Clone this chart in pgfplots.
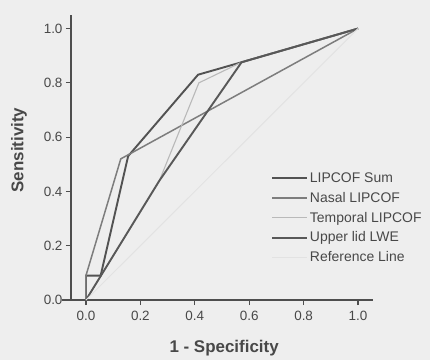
\documentclass[border=0pt]{standalone}
\usepackage{fontspec}
\setmainfont{Liberation Sans}
\usepackage{pgfplots}
\pgfplotsset{compat=1.18}
\usetikzlibrary{backgrounds}

\definecolor{bg}{RGB}{238,238,238}
\definecolor{axisgray}{RGB}{78,78,78}
\definecolor{txtgray}{RGB}{72,72,72}
\definecolor{sumc}{RGB}{82,82,82}
\definecolor{nasc}{RGB}{125,125,125}
\definecolor{temc}{RGB}{185,185,185}
\definecolor{uppc}{RGB}{88,88,88}
\definecolor{refc}{RGB}{226,226,226}

\begin{document}
\begin{tikzpicture}
\begin{axis}[
  at={(0,0)}, anchor=south west,
  scale only axis, width=302bp, height=285bp,
  xmin=-0.055, xmax=1.055, ymin=0, ymax=1.05,
  axis lines=left,
  axis line style={draw=axisgray, line width=1.6bp, -},
  x axis line style={shorten <=-9bp},
  xtick={0,0.2,0.4,0.6,0.8,1.0},
  ytick={0,0.2,0.4,0.6,0.8,1.0},
  tick align=outside, major tick length=5bp,
  tick style={draw=axisgray, line width=1.2bp},
  /pgf/number format/assume math mode=true,
  /pgf/number format/fixed, /pgf/number format/fixed zerofill,
  /pgf/number format/precision=1,
  ticklabel style={font=\fontsize{13.5}{15}\selectfont, text=txtgray},
  xticklabel style={yshift=-3bp},
  xlabel={1 - Specificity},
  ylabel={Sensitivity},
  xlabel style={font=\fontsize{17}{20}\bfseries, text=txtgray, at={(axis description cs:0.507,-0.17)}, anchor=center},
  ylabel style={font=\fontsize{17}{20}\bfseries, text=txtgray, at={(axis description cs:-0.172,0.526)}, anchor=center, rotate=0},
  clip=false,
  legend style={at={(axis description cs:0.652,0.462)}, anchor=north west, draw=none, fill=none,
    font=\fontsize{14}{16}\selectfont, text=txtgray, row sep=4.3bp,
    /tikz/every even column/.append style={column sep=5bp}},
  legend cell align=left,
  legend image code/.code={\draw[#1] (0bp,0bp) -- (35bp,0bp);},
]
\addplot[sumc, line width=1.9bp] coordinates {
  (0,0) (0,0.09) (0.054,0.09) (0.155,0.53) (0.412,0.83) (0.572,0.876) (1,1)
};
\addplot[nasc, line width=1.5bp] coordinates {
  (0,0) (0,0.09) (0.128,0.52) (1,1)
};
\addplot[temc, line width=1.1bp] coordinates {
  (0,0) (0.27,0.44) (0.415,0.80) (0.572,0.876) (1,1)
};
\addplot[uppc, line width=1.9bp] coordinates {
  (0,0) (0.27,0.44) (0.572,0.876) (1,1)
};
\addplot[refc, line width=1bp] coordinates {
  (0,0) (1,1)
};
\legend{LIPCOF Sum, Nasal LIPCOF, Temporal LIPCOF, Upper lid LWE, Reference Line}
\end{axis}
\begin{scope}[on background layer]
\fill[bg] (-71bp,-60bp) rectangle (359bp,300bp);
\end{scope}
\useasboundingbox (-71bp,-60bp) rectangle (359bp,300bp);
\end{tikzpicture}
\end{document}
